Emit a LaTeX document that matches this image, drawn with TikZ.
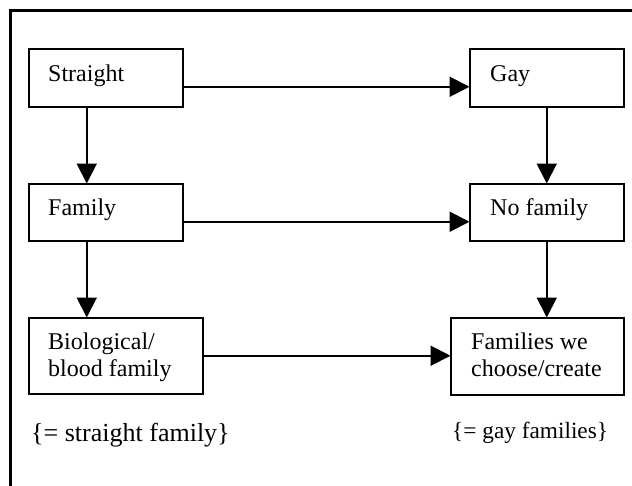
\documentclass[tikz,border=0pt]{standalone}
\usepackage{fontspec}
\setmainfont{Liberation Serif}
\usetikzlibrary{arrows.meta}
\begin{document}
\begin{tikzpicture}[x=1pt,y=-1pt,
  box/.style={draw, line width=1.5pt, inner sep=0pt, anchor=north west},
  lbl/.style={inner sep=0pt, anchor=base west, align=left,
    font=\fontsize{24}{27}\selectfont},
  arr/.style={line width=2pt, -{Triangle[length=20pt,width=20pt]}, shorten >=-0.5pt}]
\useasboundingbox (0,0) rectangle (632,485);
% outer frame (only its top and left sides lie inside the page)
\draw[line width=3pt] (10,500) -- (10,10) -- (650,10);
% boxes
\node[box, minimum width=154pt, minimum height=58pt] (straight) at (28,48) {};
\node[box, minimum width=154pt, minimum height=58pt] (gay) at (469,48) {};
\node[box, minimum width=154pt, minimum height=57pt] (family) at (28,183) {};
\node[box, minimum width=154pt, minimum height=57pt] (nofam) at (469,183) {};
\node[box, minimum width=174pt, minimum height=76pt] (bio) at (28,317) {};
\node[box, minimum width=173pt, minimum height=77pt] (chosen) at (450,317) {};
% labels (multi-line labels are placed by the baseline of their last line)
\node[lbl] (straight-t) at (48,81) {Straight};
\node[lbl] (gay-t) at (490,81.5) {Gay};
\node[lbl] (family-t) at (48,215.5) {Family};
\node[lbl] (nofam-t) at (490,215.5) {No family};
\node[lbl] (bio-t) at (48,376) {Biological/\\blood family};
\node[lbl] (chosen-t) at (471,376) {Families we\\choose/create};
\node[lbl, font=\fontsize{26}{30}\selectfont] (note-l) at (31,441) {\{= straight family\}};
\node[lbl, font=\fontsize{23.3}{27}\selectfont] (note-r) at (452,438) {\{= gay families\}};
% connectors
\draw[arr] ([yshift=-9pt]straight.east) -- ([yshift=-9pt]gay.west);
\draw[arr] ([yshift=-9.5pt]family.east) -- ([yshift=-9.5pt]nofam.west);
\draw[arr] (bio.east) -- (bio.east -| chosen.west);
\draw[arr] ([xshift=-19pt]straight.south) -- ([xshift=-19pt]family.north);
\draw[arr] ([xshift=-19pt]family.south) -- ([xshift=-19pt]family.south |- bio.north);
\draw[arr] (gay.south) -- (nofam.north);
\draw[arr] (nofam.south) -- (nofam.south |- chosen.north);
\end{tikzpicture}
\end{document}
